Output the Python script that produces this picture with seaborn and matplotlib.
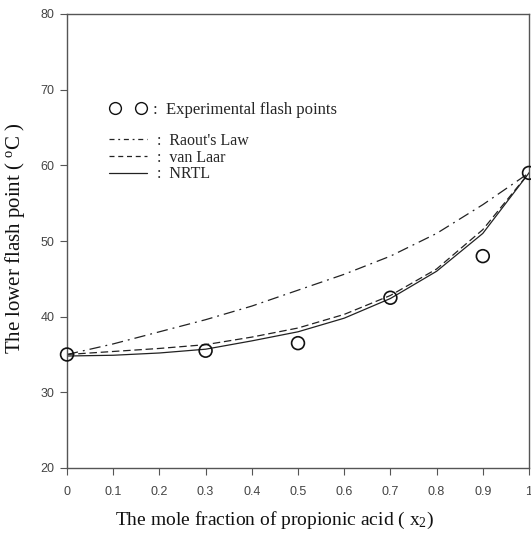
import matplotlib
matplotlib.use("Agg")
import matplotlib.pyplot as plt
import seaborn as sns
import pandas as pd
from matplotlib.lines import Line2D

# data
exp_x = [0.0, 0.3, 0.5, 0.7, 0.9, 1.0]
exp_y = [35.0, 35.5, 36.5, 42.5, 48.0, 59.0]

model_x = [0.0, 0.1, 0.2, 0.3, 0.4, 0.5, 0.6, 0.7, 0.8, 0.9, 1.0]
raoult_y = [35.0, 36.4, 38.0, 39.6, 41.4, 43.5, 45.6, 48.0, 51.0, 54.8, 59.0]
vanlaar_y = [35.0, 35.4, 35.8, 36.3, 37.3, 38.5, 40.3, 42.8, 46.3, 51.5, 59.0]
nrtl_y = [34.8, 34.9, 35.2, 35.7, 36.8, 38.0, 39.8, 42.4, 46.0, 51.0, 59.0]

x_ticks = [0, 0.1, 0.2, 0.3, 0.4, 0.5, 0.6, 0.7, 0.8, 0.9, 1]
x_ticklabels = ["0", "0.1", "0.2", "0.3", "0.4", "0.5", "0.6", "0.7", "0.8", "0.9", "1"]
y_ticks = [20, 30, 40, 50, 60, 70, 80]

sns.set_theme(style="white")
plt.rcParams["font.family"] = ["Liberation Serif", "DejaVu Serif"]
plt.rcParams["mathtext.fontset"] = "custom"
plt.rcParams["mathtext.rm"] = "Liberation Serif"
plt.rcParams["mathtext.it"] = "Liberation Serif:italic"

fig = plt.figure(figsize=(5.31, 5.36), dpi=100)
ax = fig.add_axes([67 / 531, 68 / 536, 462 / 531, 454 / 536])

lw = 0.9
sns.lineplot(x=model_x, y=raoult_y, ax=ax, color="#222222", lw=lw,
             linestyle=(0, (9, 4, 1.5, 4)), estimator=None)
sns.lineplot(x=model_x, y=vanlaar_y, ax=ax, color="#222222", lw=lw,
             linestyle=(0, (6, 3)), estimator=None)
sns.lineplot(x=model_x, y=nrtl_y, ax=ax, color="#222222", lw=lw,
             linestyle="-", estimator=None)
sns.scatterplot(x=exp_x, y=exp_y, ax=ax, s=85, facecolor="none",
                edgecolor="#111111", linewidth=1.2, zorder=5, clip_on=False)

ax.set_xlim(0, 1)
ax.set_ylim(20, 80)
ax.set_xticks(x_ticks)
ax.set_xticklabels(x_ticklabels)
ax.set_yticks(y_ticks)
for lab in ax.get_xticklabels() + ax.get_yticklabels():
    lab.set_family(["Liberation Sans", "DejaVu Sans"])
    lab.set_fontsize(9)
    lab.set_color("#444444")
ax.tick_params(axis="both", which="both", direction="out", length=5,
               width=0.8, color="#555555", bottom=True, left=True)
ax.tick_params(axis="x", pad=8)
ax.tick_params(axis="y", pad=4)
for sp in ax.spines.values():
    sp.set_color("#555555")
    sp.set_linewidth(1.0)

ax.set_xlabel("The mole fraction of propionic acid ( x$_2$)", fontsize=14,
              color="#111111")
ax.xaxis.set_label_coords(0.448, -0.093)
ax.set_ylabel("The lower flash point ( $^{\\rm o}$C )", fontsize=15,
              color="#111111")
ax.yaxis.set_label_coords(-0.087, 0.506)

# legends
h1 = [Line2D([], [], marker="o", linestyle="none", markersize=8.5,
             markerfacecolor="none", markeredgecolor="#111111", markeredgewidth=1.0)]
leg1 = ax.legend(h1, [":  Experimental flash points"], loc="upper left",
                 bbox_to_anchor=(0.06, 0.84), frameon=False, numpoints=2,
                 handlelength=2.2, handletextpad=0.4, prop={"size": 12})
ax.add_artist(leg1)
h2 = [Line2D([], [], color="#222222", lw=lw, linestyle=(0, (4, 3, 1.5, 3))),
      Line2D([], [], color="#222222", lw=lw, linestyle=(0, (4, 3))),
      Line2D([], [], color="#222222", lw=lw, linestyle="-")]
leg2 = ax.legend(h2, [":  Raout's Law", ":  van Laar", ":  NRTL"], loc="upper left",
                 bbox_to_anchor=(0.06, 0.77), frameon=False,
                 handlelength=2.4, handletextpad=0.6, labelspacing=0.05,
                 prop={"size": 11.5})

fig.savefig("out.png", dpi=100)
